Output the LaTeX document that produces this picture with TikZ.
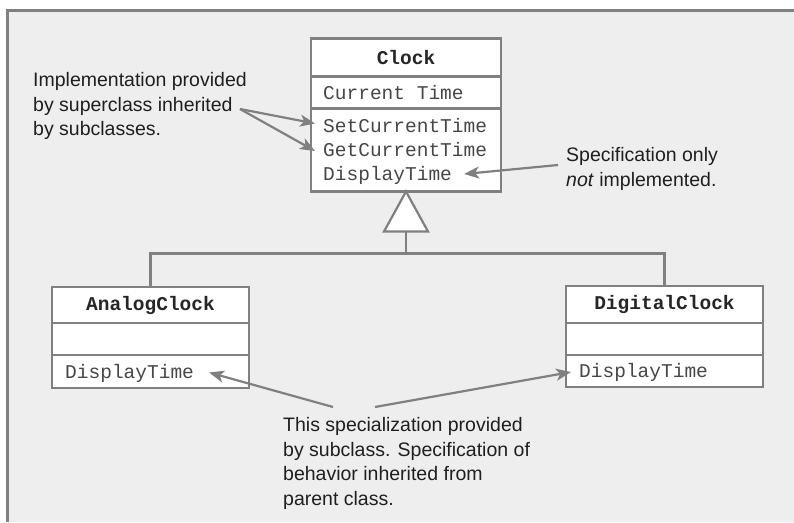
\documentclass[tikz,border=0pt]{standalone}
\usepackage{fontspec}
\setmainfont{Liberation Sans}
\setmonofont{Liberation Mono}
\usetikzlibrary{arrows.meta,positioning}

\definecolor{linegray}{HTML}{808080}
\definecolor{panelgray}{HTML}{EEEEEE}

\begin{document}
\begin{tikzpicture}[x=1pt,y=-1pt,
  box/.style={draw=linegray,line width=2.2pt,fill=white,inner sep=0pt,outer sep=0pt,
    font=\ttfamily\bfseries\fontsize{19.5}{24}\selectfont,text=black!85},
  member/.style={font=\ttfamily\fontsize{19.5}{24}\selectfont,text=black!72,anchor=west,
    inner sep=0pt,text height=15pt,text depth=2pt},
  note/.style={font=\fontsize{19.5}{24.5}\selectfont,align=left,anchor=north west,
    inner sep=0pt,text=black!88},
  pointer/.style={-{Stealth[length=15pt,width=12pt,inset=4pt]},draw=linegray,line width=2.2pt},
  link/.style={draw=linegray,line width=2.2pt},
]
\useasboundingbox (0,0) rectangle (794,522);
\fill[white] (0,0) rectangle (794,522);
\fill[panelgray] (7,10) rectangle (794,522);
\draw[linegray,line width=3pt] (7,522) -- (7,10) -- (794,10);

% superclass
\node[box,minimum width=190pt,minimum height=38pt] (clock) at (406,57.5) {Clock};
\node[box,minimum width=190pt,minimum height=32pt,below=0pt of clock] (clockattr) {};
\node[box,minimum width=190pt,minimum height=83pt,below=0pt of clockattr] (clockops) {};
\node[member] (curtime) at ([xshift=12pt]clockattr.west) {Current Time};
\node[member] (setop) at ([xshift=12pt,yshift=24.5pt]clockops.west) {SetCurrentTime};
\node[member] (getop) at ([xshift=12pt]clockops.west) {GetCurrentTime};
\node[member] (showop) at ([xshift=12pt,yshift=-24pt]clockops.west) {DisplayTime};

% subclasses
\node[box,minimum width=197pt,minimum height=36pt] (analog) at (150.5,305) {AnalogClock};
\node[box,minimum width=197pt,minimum height=32pt,below=0pt of analog] (analogattr) {};
\node[box,minimum width=197pt,minimum height=33pt,below=0pt of analogattr] (analogops) {};
\node[member] (analogshow) at ([xshift=13pt]analogops.west) {DisplayTime};

\node[box,minimum width=197pt,minimum height=37pt] (digital) at (664.5,304.5) {DigitalClock};
\node[box,minimum width=197pt,minimum height=32pt,below=0pt of digital] (digitalattr) {};
\node[box,minimum width=197pt,minimum height=32pt,below=0pt of digitalattr] (digitalops) {};
\node[member] (digitalshow) at ([xshift=13pt]digitalops.west) {DisplayTime};

% generalization
\draw[link,fill=white] (clockops.south) -- ++(22,40) coordinate (tribase) -- ++(-44,0) -- cycle;
\coordinate (trimid) at ([yshift=-40pt]clockops.south);
\draw[link] (trimid) -- ++(0,22) coordinate (fork);
\draw[link] (analog.north) |- (fork) -| (digital.north);

% notes
\node[note] (implnote) at (33,72.5) {Implementation provided\\by superclass inherited\\by subclasses.};
\node[note] (specnote) at (566,147.5) {Specification only\\\textit{not} implemented.};
\node[note] (subnote) at (283,417.5) {This specialization provided\\by subclass. Specification of\\behavior inherited from\\parent class.};

\coordinate (implfrom) at (240,109);
\coordinate (specfrom) at (558,165);
\coordinate (subleft) at (333,407);
\coordinate (subright) at (375,407);
\draw[pointer] (implfrom) -- ([xshift=-8pt,yshift=2pt]setop.west);
\draw[pointer] (implfrom) -- ([xshift=-8pt,yshift=-1pt]getop.west);
\draw[pointer] (specfrom) -- ([xshift=12pt]showop.east);
\draw[pointer] (subleft) -- ([xshift=15pt,yshift=-1pt]analogshow.east);
\draw[pointer] (subright) -- ([xshift=-8pt,yshift=-1pt]digitalshow.west);
\end{tikzpicture}
\end{document}
